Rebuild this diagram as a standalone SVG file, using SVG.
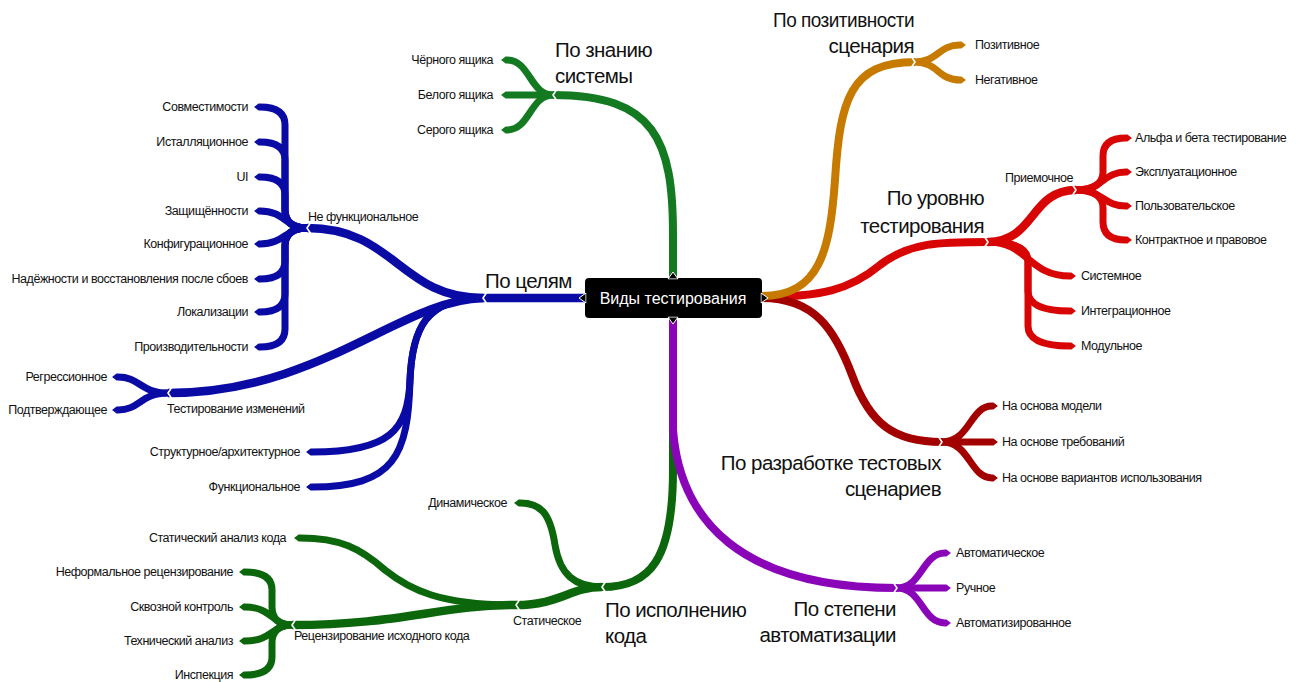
<svg xmlns="http://www.w3.org/2000/svg" width="1297" height="682" viewBox="0 0 1297 682">
<style>
.c{fill:none;stroke-linecap:butt;stroke-linejoin:round}
.m{stroke-width:8}
.s{stroke-width:8.5}
.l{stroke-width:7}
.bl{stroke:#0a0aa5}.gt{stroke:#137a22}.gb{stroke:#0c660c}.or{stroke:#c77a00}.rd{stroke:#d80505}.dr{stroke:#a30000}.pu{stroke:#8a05b8}
.n{fill:none;stroke:#fff;stroke-width:1.6}
text{font-family:"Liberation Sans",Arial,sans-serif;fill:#111}
.t{font-size:12.5px;letter-spacing:-0.45px}
.big{font-size:20.5px;letter-spacing:-0.55px}
.e{text-anchor:end}
.ctr{font-size:16px;fill:#fff;text-anchor:middle}
</style>
<defs>
<marker id="mbl" viewBox="0 -0.6 1 1.2" refX="0" refY="0" markerWidth="1" markerHeight="1.2" orient="auto" markerUnits="strokeWidth"><path d="M0,-0.5 L0.2,-0.5 L0.85,0 L0.2,0.5 L0,0.5Z" fill="#0a0aa5"/></marker>
<marker id="mgt" viewBox="0 -0.6 1 1.2" refX="0" refY="0" markerWidth="1" markerHeight="1.2" orient="auto" markerUnits="strokeWidth"><path d="M0,-0.5 L0.2,-0.5 L0.85,0 L0.2,0.5 L0,0.5Z" fill="#137a22"/></marker>
<marker id="mgb" viewBox="0 -0.6 1 1.2" refX="0" refY="0" markerWidth="1" markerHeight="1.2" orient="auto" markerUnits="strokeWidth"><path d="M0,-0.5 L0.2,-0.5 L0.85,0 L0.2,0.5 L0,0.5Z" fill="#0c660c"/></marker>
<marker id="mor" viewBox="0 -0.6 1 1.2" refX="0" refY="0" markerWidth="1" markerHeight="1.2" orient="auto" markerUnits="strokeWidth"><path d="M0,-0.5 L0.2,-0.5 L0.85,0 L0.2,0.5 L0,0.5Z" fill="#c77a00"/></marker>
<marker id="mrd" viewBox="0 -0.6 1 1.2" refX="0" refY="0" markerWidth="1" markerHeight="1.2" orient="auto" markerUnits="strokeWidth"><path d="M0,-0.5 L0.2,-0.5 L0.85,0 L0.2,0.5 L0,0.5Z" fill="#d80505"/></marker>
<marker id="mdr" viewBox="0 -0.6 1 1.2" refX="0" refY="0" markerWidth="1" markerHeight="1.2" orient="auto" markerUnits="strokeWidth"><path d="M0,-0.5 L0.2,-0.5 L0.85,0 L0.2,0.5 L0,0.5Z" fill="#a30000"/></marker>
<marker id="mpu" viewBox="0 -0.6 1 1.2" refX="0" refY="0" markerWidth="1" markerHeight="1.2" orient="auto" markerUnits="strokeWidth"><path d="M0,-0.5 L0.2,-0.5 L0.85,0 L0.2,0.5 L0,0.5Z" fill="#8a05b8"/></marker>
</defs>
<rect width="1297" height="682" fill="#fff"/>

<g id="connectors">
<!-- main branches -->
<path class="c m gt" d="M673,278 L673,235 C673,140 655,95 553,95"/>
<path class="c s bl" d="M585,298 L483,298"/>
<path class="c m gb" d="M673,318 L673,470 C673,560 650,587 602,587"/>
<path class="c m pu" d="M673,318 L673,430 C680,520 740,588 897,588"/>
<path class="c m rd" d="M762,297 C820,297 850,290 880,265 C910,242 940,242 988,242"/>
<path class="c m dr" d="M762,298 C815,298 835,330 852,375 C870,425 895,442 942,442"/>
<path class="c m or" d="M762,296 C820,296 830,250 835,180 C840,100 850,62 915,62"/>

<!-- blue sub-branches -->
<path class="c s bl" d="M483,298 C400,298 395,228 307,228"/>
<path class="c s bl" d="M483,298 C400,300 320,393 168,393"/>
<path class="c l bl" marker-end="url(#mbl)" d="M483,298 C425,298 412,330 410,380 C408,430 390,452 312,452"/>
<path class="c l bl" marker-end="url(#mbl)" d="M483,298 C425,298 412,330 410,380 C408,455 395,487 312,487"/>
<g class="c l bl" marker-end="url(#mbl)">
<path d="M307,228 Q285,228 285,210 L285,125 Q285,107 260,107"/>
<path d="M307,228 Q285,228 285,210 L285,160 Q285,142 260,142"/>
<path d="M307,228 Q285,228 285,210 L285,195 Q285,177 260,177"/>
<path d="M307,228 C285,228 285,211 260,211"/>
<path d="M307,228 C285,228 285,244 260,244"/>
<path d="M307,228 Q285,228 285,246 L285,261 Q285,279 260,279"/>
<path d="M307,228 Q285,228 285,246 L285,294 Q285,312 260,312"/>
<path d="M307,228 Q285,228 285,246 L285,329 Q285,347 260,347"/>
<path d="M168,393 C140,393 140,377 118,377"/>
<path d="M168,393 C140,393 140,410 118,410"/>
</g>

<!-- top green leaves -->
<g class="c l gt" marker-end="url(#mgt)">
<path d="M553,95 C530,95 530,60 507,60"/>
<path d="M553,95 L507,95"/>
<path d="M553,95 C530,95 530,130 507,130"/>
</g>

<!-- bottom green -->
<path class="c s gb" d="M602,587 C570,587 560,605 516,605"/>
<path class="c l gb" marker-end="url(#mgb)" d="M602,587 C575,587 560,575 555,545 C550,512 540,503 520,503"/>
<path class="c l gb" marker-end="url(#mgb)" d="M516,605 C440,605 410,590 385,570 C360,548 340,538 300,538"/>
<path class="c s gb" d="M516,605 C440,605 400,625 292,625"/>
<g class="c l gb" marker-end="url(#mgb)">
<path d="M292,625 Q272,625 272,607 L272,590 Q272,572 245,572"/>
<path d="M292,625 C272,625 272,607 245,607"/>
<path d="M292,625 C272,625 272,641 245,641"/>
<path d="M292,625 Q272,625 272,643 L272,657 Q272,675 245,675"/>
</g>

<!-- orange leaves -->
<g class="c l or" marker-end="url(#mor)">
<path d="M915,62 C938,62 938,45 960,45"/>
<path d="M915,62 C938,62 938,80 960,80"/>
</g>

<!-- red -->
<path class="c s rd" d="M988,242 C1035,242 1030,190 1076,190"/>
<g class="c l rd" marker-end="url(#mrd)">
<path d="M988,242 C1028,242 1028,276 1070,276"/>
<path d="M988,242 Q1028,242 1028,262 L1028,291 Q1028,311 1070,311"/>
<path d="M988,242 Q1028,242 1028,262 L1028,326 Q1028,346 1070,346"/>
<path d="M1076,190 Q1103,190 1103,172 L1103,156 Q1103,138 1126,138"/>
<path d="M1076,190 C1103,190 1103,172 1126,172"/>
<path d="M1076,190 C1103,190 1103,206 1126,206"/>
<path d="M1076,190 Q1103,190 1103,208 L1103,222 Q1103,240 1126,240"/>
</g>

<!-- dark red leaves -->
<g class="c l dr" marker-end="url(#mdr)">
<path d="M942,442 C970,442 970,406 992,406"/>
<path d="M942,442 L992,442"/>
<path d="M942,442 C970,442 970,478 992,478"/>
</g>

<!-- purple leaves -->
<g class="c l pu" marker-end="url(#mpu)">
<path d="M897,588 C922,588 922,553 945,553"/>
<path d="M897,588 L945,588"/>
<path d="M897,588 C922,588 922,623 945,623"/>
</g>

<!-- hub notches -->
<g class="n">
<polyline points="557,89 553,95 557,101"/>
<polyline points="487,292 483,298 487,304"/>
<polyline points="311,222 307,228 311,234"/>
<polyline points="172,387 168,393 172,399"/>
<polyline points="606,581 602,587 606,593"/>
<polyline points="520,599 516,605 520,611"/>
<polyline points="296,619 292,625 296,631"/>
<polyline points="911,56 915,62 911,68"/>
<polyline points="984,236 988,242 984,248"/>
<polyline points="1072,184 1076,190 1072,196"/>
<polyline points="938,436 942,442 938,448"/>
<polyline points="893,582 897,588 893,594"/>
</g>
</g>

<g id="center">
<rect x="585" y="278" width="177" height="40" rx="4" fill="#000"/>
<polygon points="668,279 673,272 678,279" fill="#000" stroke="#fff" stroke-width="1"/>
<polygon points="668,317 673,324 678,317" fill="#000" stroke="#fff" stroke-width="1"/>
<polygon points="586,293 579,298 586,303" fill="#000" stroke="#fff" stroke-width="1"/>
<polygon points="761,293 768,298 761,303" fill="#000" stroke="#fff" stroke-width="1"/>
<rect x="586.5" y="279.5" width="174" height="37" rx="3" fill="#000"/>
<text class="ctr" x="673" y="304">Виды тестирования</text>
</g>

<g id="po-znaniyu">
<text class="big" x="555" y="57">По знанию</text>
<text class="big" x="555" y="83">системы</text>
<text class="t e" x="493" y="64">Чёрного ящика</text>
<text class="t e" x="493" y="99">Белого ящика</text>
<text class="t e" x="493" y="134">Серого ящика</text>
</g>

<g id="po-celyam">
<text class="big" x="485" y="288">По целям</text>
<text class="t" x="308" y="221">Не функциональное</text>
<text class="t e" x="248" y="111">Совместимости</text>
<text class="t e" x="248" y="146">Исталляционное</text>
<text class="t e" x="248" y="181">UI</text>
<text class="t e" x="248" y="215">Защищённости</text>
<text class="t e" x="248" y="248">Конфигурационное</text>
<text class="t e" x="248" y="283">Надёжности и восстановления после сбоев</text>
<text class="t e" x="248" y="316">Локализации</text>
<text class="t e" x="248" y="351">Производительности</text>
<text class="t" x="167" y="413">Тестирование изменений</text>
<text class="t e" x="107" y="381">Регрессионное</text>
<text class="t e" x="107" y="414">Подтверждающее</text>
<text class="t e" x="300" y="456">Структурное/архитектурное</text>
<text class="t e" x="300" y="491">Функциональное</text>
</g>

<g id="po-ispolneniyu">
<text class="big" x="605" y="617">По исполнению</text>
<text class="big" x="605" y="643">кода</text>
<text class="t e" x="507" y="507">Динамическое</text>
<text class="t" x="513" y="625">Статическое</text>
<text class="t e" x="286" y="542">Статический анализ кода</text>
<text class="t" x="294" y="640">Рецензирование исходного кода</text>
<text class="t e" x="233" y="576">Неформальное рецензирование</text>
<text class="t e" x="233" y="611">Сквозной контроль</text>
<text class="t e" x="233" y="645">Технический анализ</text>
<text class="t e" x="233" y="679">Инспекция</text>
</g>

<g id="po-pozitivnosti">
<text class="big e" x="914" y="27" textLength="141" lengthAdjust="spacingAndGlyphs">По позитивности</text>
<text class="big e" x="914" y="53">сценария</text>
<text class="t" x="975" y="49">Позитивное</text>
<text class="t" x="975" y="84">Негативное</text>
</g>

<g id="po-urovnyu">
<text class="big e" x="984" y="205">По уровню</text>
<text class="big e" x="984" y="233">тестирования</text>
<text class="t e" x="1073" y="182">Приемочное</text>
<text class="t" x="1135" y="142">Альфа и бета тестирование</text>
<text class="t" x="1135" y="176">Эксплуатационное</text>
<text class="t" x="1135" y="210">Пользовательское</text>
<text class="t" x="1135" y="244">Контрактное и правовое</text>
<text class="t" x="1081" y="280">Системное</text>
<text class="t" x="1081" y="315">Интеграционное</text>
<text class="t" x="1081" y="350">Модульное</text>
</g>

<g id="po-razrabotke">
<text class="big e" x="941" y="470">По разработке тестовых</text>
<text class="big e" x="941" y="496">сценариев</text>
<text class="t" x="1002" y="410">На основа модели</text>
<text class="t" x="1002" y="446">На основе требований</text>
<text class="t" x="1002" y="482">На основе вариантов использования</text>
</g>

<g id="po-avtomatizacii">
<text class="big e" x="896" y="616">По степени</text>
<text class="big e" x="896" y="642">автоматизации</text>
<text class="t" x="956" y="557">Автоматическое</text>
<text class="t" x="956" y="592">Ручное</text>
<text class="t" x="956" y="627">Автоматизированное</text>
</g>
</svg>
